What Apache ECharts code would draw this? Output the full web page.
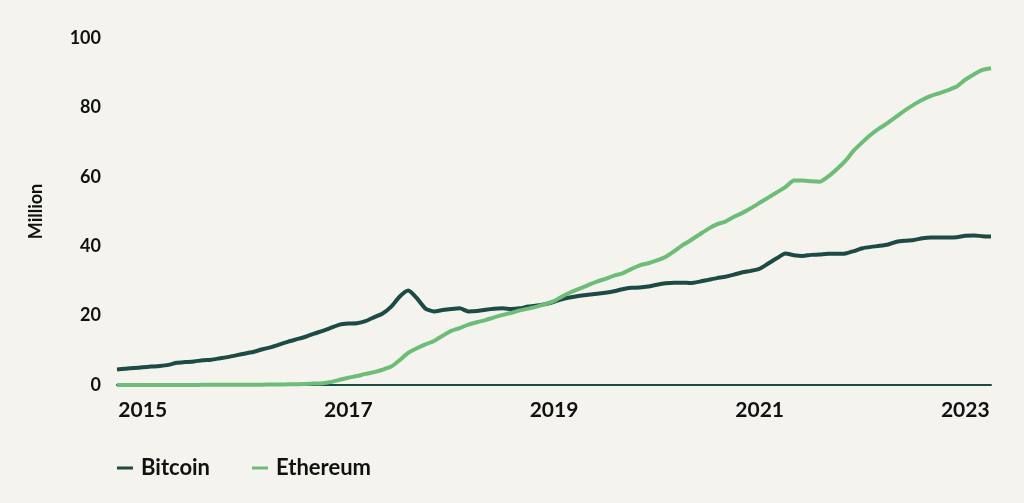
<!DOCTYPE html>
<html>
<head>
<meta charset="utf-8">
<script src="https://cdn.jsdelivr.net/npm/echarts@6/dist/echarts.min.js"></script>
<style>
html,body{margin:0;padding:0;background:#f4f3ee;}
#c{width:1024px;height:503px;}
</style>
</head>
<body>
<div id="c"></div>
<script>
// Monthly categories: Oct 2014 .. Apr 2023
const startYear = 2014, startMonth = 10, monthCount = 103;
const months = [];
for (let k = 0; k < monthCount; k++) {
  const m = startMonth - 1 + k;
  const y = startYear + Math.floor(m / 12);
  const mm = (m % 12) + 1;
  months.push(y + '-' + (mm < 10 ? '0' + mm : mm));
}
const tickYears = ['2015', '2017', '2019', '2021', '2023'];

const bitcoin = [
  4.5, 4.7, 4.9, 5.1, 5.3, 5.5, 5.8, 6.4, 6.6, 6.8,
  7.1, 7.3, 7.7, 8.1, 8.6, 9.1, 9.6, 10.3, 10.9, 11.7,
  12.5, 13.2, 13.9, 14.8, 15.6, 16.5, 17.4, 17.7, 17.8, 18.4,
  19.5, 20.6, 22.6, 25.5, 27.2, 25.0, 22.0, 21.2, 21.6, 21.9,
  22.1, 21.2, 21.3, 21.7, 22.0, 22.1, 21.9, 22.1, 22.6, 22.9,
  23.3, 24.0, 24.8, 25.3, 25.7, 26.0, 26.3, 26.6, 27.0, 27.6,
  28.0, 28.1, 28.4, 28.9, 29.3, 29.5, 29.5, 29.4, 29.8, 30.3,
  30.8, 31.2, 31.8, 32.5, 32.9, 33.5, 35.0, 36.5, 37.9, 37.4,
  37.2, 37.5, 37.6, 37.8, 37.8, 37.9, 38.6, 39.4, 39.8, 40.1,
  40.5, 41.3, 41.6, 41.8, 42.3, 42.5, 42.5, 42.5, 42.6, 43.0,
  43.1, 42.9, 42.8
];
const ethereum = [
  0, 0, 0, 0, 0, 0, 0, 0, 0, 0,
  0.05, 0.05, 0.05, 0.05, 0.05, 0.05, 0.1, 0.1, 0.15, 0.15,
  0.2, 0.2, 0.3, 0.4, 0.5, 0.9, 1.5, 2.1, 2.6, 3.2,
  3.7, 4.4, 5.3, 7.2, 9.3, 10.6, 11.7, 12.7, 14.2, 15.6,
  16.4, 17.4, 18.1, 18.7, 19.5, 20.2, 20.8, 21.5, 22.0, 22.6,
  23.3, 24.2, 25.6, 26.8, 27.8, 28.8, 29.8, 30.6, 31.5, 32.2,
  33.4, 34.5, 35.1, 35.9, 36.9, 38.5, 40.3, 41.8, 43.4, 45.0,
  46.3, 47.1, 48.5, 49.6, 51.0, 52.5, 54.0, 55.5, 57.0, 58.9,
  58.9, 58.7, 58.6, 60.1, 62.2, 64.6, 67.6, 70.0, 72.2, 74.0,
  75.6, 77.4, 79.2, 80.8, 82.2, 83.3, 84.1, 85.0, 86.0, 88.0,
  89.5, 90.8, 91.3
];

const btcColor = '#1d4a44';
const ethColor = '#6dbd78';
const font = 'Lato, "Noto Sans", sans-serif';

const chart = echarts.init(document.getElementById('c'), null, {renderer: 'canvas'});
chart.setOption({
  backgroundColor: '#f4f3ee',
  animation: false,
  grid: {left: 117, right: 33, top: 38, bottom: 118, containLabel: false},
  legend: {
    left: 112, top: 452,
    itemWidth: 16, itemHeight: 3, itemGap: 42,
    icon: 'rect',
    textStyle: {fontFamily: font, fontWeight: 'bold', fontSize: 22, color: '#111', padding: [0, 0, 0, 3]},
    data: ['Bitcoin', 'Ethereum']
  },
  xAxis: {
    type: 'category',
    data: months,
    boundaryGap: false,
    axisLine: {show: true, lineStyle: {color: btcColor, width: 2}},
    axisTick: {show: false},
    splitLine: {show: false},
    axisLabel: {
      interval: function (idx, val) {
        return val.slice(5) === '01' && tickYears.indexOf(val.slice(0, 4)) >= 0;
      },
      formatter: function (val) { return val.slice(0, 4); },
      margin: 15,
      fontFamily: font, fontWeight: 'bold', fontSize: 21, color: '#111'
    }
  },
  yAxis: {
    type: 'value',
    min: 0, max: 100, interval: 20,
    name: 'Million',
    nameLocation: 'middle',
    nameGap: 72,
    nameTextStyle: {fontFamily: font, fontWeight: 'bold', fontSize: 18, color: '#111'},
    axisLine: {show: false},
    axisTick: {show: false},
    splitLine: {show: false},
    axisLabel: {margin: 16, fontFamily: font, fontWeight: 'bold', fontSize: 18, color: '#111'}
  },
  series: [
    {
      name: 'Bitcoin', type: 'line', data: bitcoin, showSymbol: false, smooth: 0.2,
      lineStyle: {color: btcColor, width: 4}, itemStyle: {color: btcColor}, z: 3
    },
    {
      name: 'Ethereum', type: 'line', data: ethereum, showSymbol: false, smooth: 0.2,
      lineStyle: {color: ethColor, width: 4}, itemStyle: {color: ethColor}, z: 4
    }
  ]
});
</script>
</body>
</html>
